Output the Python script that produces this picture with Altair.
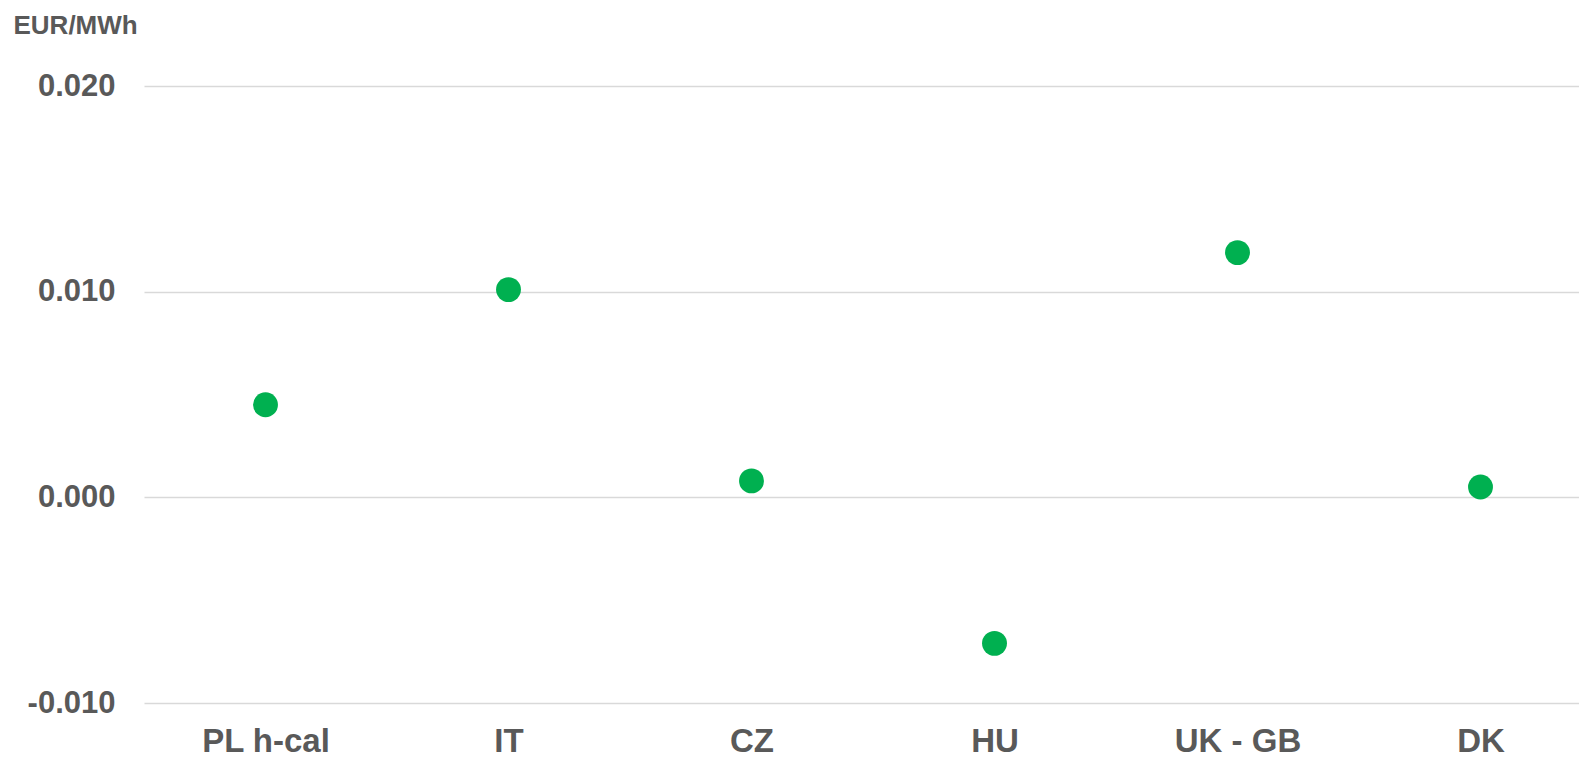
import altair as alt
import pandas as pd

categories = ["PL h-cal", "IT", "CZ", "HU", "UK - GB", "DK"]
values = [0.0045, 0.0101, 0.0008, -0.0071, 0.0119, 0.0005]
y_ticks = [-0.010, 0.000, 0.010, 0.020]

df = pd.DataFrame({"market": categories, "value": values})

chart = alt.Chart(df).mark_circle(size=620, opacity=1, color="#00B050").encode(
    x=alt.X("market:N", sort=categories,
            scale=alt.Scale(paddingInner=0, paddingOuter=0, range=[0, 1458]),
            axis=alt.Axis(title=None, labelAngle=0, ticks=False, domain=False,
                          grid=False, labelFont="Liberation Sans",
                          labelFontWeight="bold", labelFontSize=33,
                          labelColor="#595959", labelPadding=22)),
    y=alt.Y("value:Q",
            scale=alt.Scale(domain=[-0.010, 0.020], nice=False, zero=False),
            axis=alt.Axis(values=y_ticks,
                          labelExpr="datum.value < 0 ? '-' + format(-datum.value, '.3f') : format(datum.value, '.3f')",
                          ticks=False, domain=False,
                          grid=True, gridColor="#d9d9d9", gridWidth=1.5,
                          labelFont="Liberation Sans", labelFontWeight="bold",
                          labelFontSize=31, labelColor="#595959", labelPadding=29,
                          title="EUR/MWh", titleAngle=0, titleAlign="left",
                          titleBaseline="alphabetic", titleX=-131, titleY=-53,
                          titleFont="Liberation Sans", titleFontWeight="bold",
                          titleFontSize=26, titleColor="#595959")),
).properties(
    width=1435,
    height=617,
    autosize=alt.AutoSizeParams(type="none"),
    padding={"left": 136, "top": 78, "right": 0, "bottom": 60},
).configure_view(stroke=None)

chart.save("out.html", embed_options={"renderer": "svg", "actions": False})
